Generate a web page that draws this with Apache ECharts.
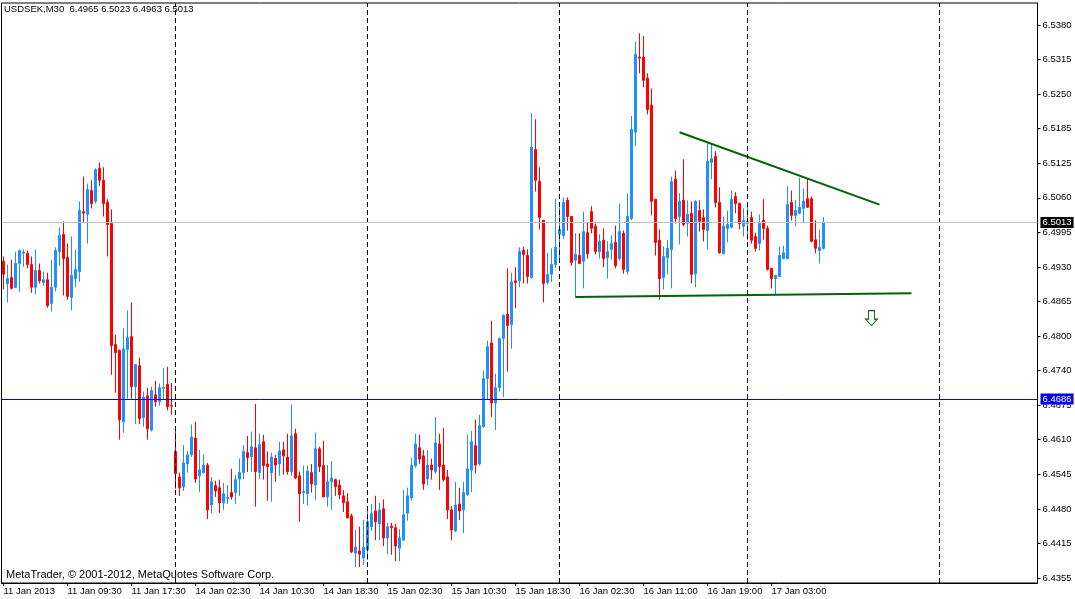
<!DOCTYPE html>
<html>
<head>
<meta charset="utf-8">
<title>USDSEK,M30</title>
<script src="https://cdn.jsdelivr.net/npm/echarts@6/dist/echarts.min.js"></script>
<style>
    html, body { margin: 0; padding: 0; background: #fff; }
    #chart { width: 1075px; height: 599px; }
</style>
</head>
<body>
<div id="chart"></div>
<script>
"use strict";

// trading sessions shown on the chart (half-hour bars)
var sessionDays = ['11 Jan', '14 Jan', '15 Jan', '16 Jan', '17 Jan', '18 Jan'];
var sessionFirstSlot = [3, 0, 0, 0, 0, 0];
var sessionBars = [43, 48, 48, 47, 48, 25];
var missingSlots = { '16 Jan': 12 };

var opens = [6.4941, 6.4900, 6.4911, 6.4893, 6.4937, 6.4956, 6.4956, 6.4935, 6.4893, 6.4924,
    6.4902, 6.4907, 6.4863, 6.4893, 6.4959, 6.4991, 6.4948, 6.4874, 6.4909, 6.4922,
    6.5033, 6.5028, 6.5072, 6.5052, 6.5113, 6.5091, 6.5050, 6.5011, 6.4787, 6.4776,
    6.4644, 6.4778, 6.4802, 6.4709, 6.4748, 6.4652, 6.4692, 6.4629, 6.4694, 6.4681,
    6.4706, 6.4713, 6.4674, 6.4589, 6.4542, 6.4524, 6.4566, 6.4583, 6.4614, 6.4544,
    6.4550, 6.4564, 6.4490, 6.4526, 6.4522, 6.4494, 6.4502, 6.4513, 6.4513, 6.4538,
    6.4550, 6.4587, 6.4579, 6.4596, 6.4550, 6.4607, 6.4566, 6.4550, 6.4576, 6.4566,
    6.4592, 6.4579, 6.4552, 6.4622, 6.4544, 6.4513, 6.4511, 6.4550, 6.4527, 6.4594,
    6.4563, 6.4505, 6.4533, 6.4537, 6.4527, 6.4507, 6.4496, 6.4470, 6.4401, 6.4405,
    6.4392, 6.4407, 6.4450, 6.4479, 6.4455, 6.4483, 6.4429, 6.4451, 6.4448, 6.4410,
    6.4425, 6.4475, 6.4503, 6.4563, 6.4596, 6.4581, 6.4538, 6.4564, 6.4552, 6.4603,
    6.4564, 6.4542, 6.4481, 6.4442, 6.4492, 6.4481, 6.4509, 6.4555, 6.4600, 6.4566,
    6.4635, 6.4724, 6.4790, 6.4679, 6.4707, 6.4798, 6.4843, 6.4824, 6.4905, 6.4905,
    6.4961, 6.4952, 6.4911, 6.5148, 6.5089, 6.5017, 6.4902, 6.4917, 6.4935, 6.4991,
    6.4989, 6.5054, 6.5024, 6.4943, 6.4952, 6.4941, 6.4994, 6.5033, 6.5006, 6.4959,
    6.4980, 6.4948, 6.4963, 6.4976, 6.4946, 6.4993, 6.4922, 6.5020, 6.5180, 6.5319,
    6.5319, 6.5280, 6.5230, 6.5056, 6.4980, 6.4911, 6.4948, 6.4963, 6.5093, 6.5024,
    6.5054, 6.5011, 6.5030, 6.4918, 6.5035, 6.5022, 6.4998, 6.5124, 6.5135, 6.5050,
    6.4955, 6.5002, 6.5004, 6.5061, 6.5048, 6.5006, 6.5011, 6.5022, 6.4987, 6.4974,
    6.5017, 6.5002, 6.4928, 6.4909, 6.4913, 6.4946, 6.4946, 6.5050, 6.5026, 6.5030,
    6.5039, 6.5057, 6.5057, 6.4981, 6.4961, 6.4965];
var highs = [6.4950, 6.4935, 6.4944, 6.4959, 6.4963, 6.4963, 6.4961, 6.4950, 6.4963, 6.4937,
    6.4922, 6.4920, 6.4943, 6.4967, 6.5004, 6.5015, 6.4974, 6.4987, 6.4963, 6.5052,
    6.5098, 6.5085, 6.5091, 6.5113, 6.5124, 6.5115, 6.5056, 6.5037, 6.4805, 6.4778,
    6.4817, 6.4850, 6.4865, 6.4750, 6.4763, 6.4700, 6.4707, 6.4709, 6.4720, 6.4715,
    6.4744, 6.4746, 6.4716, 6.4633, 6.4550, 6.4601, 6.4590, 6.4639, 6.4644, 6.4592,
    6.4583, 6.4568, 6.4542, 6.4535, 6.4537, 6.4531, 6.4527, 6.4557, 6.4546, 6.4576,
    6.4601, 6.4618, 6.4626, 6.4677, 6.4622, 6.4620, 6.4589, 6.4587, 6.4583, 6.4607,
    6.4607, 6.4622, 6.4676, 6.4631, 6.4552, 6.4563, 6.4563, 6.4566, 6.4624, 6.4598,
    6.4609, 6.4564, 6.4572, 6.4539, 6.4537, 6.4518, 6.4512, 6.4474, 6.4444, 6.4450,
    6.4462, 6.4485, 6.4492, 6.4507, 6.4494, 6.4500, 6.4457, 6.4457, 6.4455, 6.4446,
    6.4518, 6.4522, 6.4577, 6.4622, 6.4620, 6.4592, 6.4592, 6.4576, 6.4653, 6.4622,
    6.4633, 6.4555, 6.4488, 6.4533, 6.4522, 6.4533, 6.4620, 6.4627, 6.4648, 6.4657,
    6.4739, 6.4794, 6.4831, 6.4733, 6.4800, 6.4843, 6.4928, 6.4920, 6.4930, 6.4967,
    6.4968, 6.4963, 6.5215, 6.5204, 6.5115, 6.5017, 6.4957, 6.4965, 6.5057, 6.5041,
    6.5059, 6.5059, 6.5024, 6.4993, 6.4993, 6.5033, 6.5013, 6.5043, 6.5011, 6.4991,
    6.5002, 6.4978, 6.4989, 6.5007, 6.5048, 6.4998, 6.5067, 6.5210, 6.5348, 6.5363,
    6.5358, 6.5289, 6.5261, 6.5056, 6.5000, 6.4969, 6.4981, 6.5098, 6.5109, 6.5067,
    6.5130, 6.5054, 6.5052, 6.5054, 6.5054, 6.5037, 6.5159, 6.5159, 6.5145, 6.5078,
    6.5024, 6.5035, 6.5072, 6.5069, 6.5050, 6.5039, 6.5044, 6.5033, 6.4994, 6.5028,
    6.5056, 6.5007, 6.4928, 6.4915, 6.4968, 6.4970, 6.5080, 6.5072, 6.5054, 6.5096,
    6.5076, 6.5093, 6.5061, 6.5017, 6.5000, 6.5023];
var lows = [6.4889, 6.4865, 6.4889, 6.4891, 6.4885, 6.4931, 6.4928, 6.4883, 6.4880, 6.4900,
    6.4896, 6.4855, 6.4848, 6.4885, 6.4933, 6.4878, 6.4870, 6.4850, 6.4893, 6.4903,
    6.5013, 6.4974, 6.5039, 6.5048, 6.5080, 6.5024, 6.4950, 6.4731, 6.4698, 6.4611,
    6.4624, 6.4687, 6.4687, 6.4640, 6.4640, 6.4635, 6.4611, 6.4626, 6.4672, 6.4674,
    6.4685, 6.4665, 6.4657, 6.4520, 6.4507, 6.4516, 6.4550, 6.4579, 6.4531, 6.4514,
    6.4548, 6.4464, 6.4475, 6.4505, 6.4475, 6.4481, 6.4492, 6.4500, 6.4492, 6.4507,
    6.4538, 6.4551, 6.4551, 6.4487, 6.4538, 6.4537, 6.4498, 6.4496, 6.4533, 6.4544,
    6.4546, 6.4546, 6.4544, 6.4538, 6.4459, 6.4492, 6.4490, 6.4513, 6.4500, 6.4551,
    6.4505, 6.4487, 6.4481, 6.4507, 6.4501, 6.4477, 6.4466, 6.4401, 6.4375, 6.4375,
    6.4379, 6.4388, 6.4442, 6.4425, 6.4425, 6.4414, 6.4399, 6.4398, 6.4386, 6.4386,
    6.4425, 6.4461, 6.4498, 6.4559, 6.4566, 6.4518, 6.4527, 6.4537, 6.4548, 6.4518,
    6.4533, 6.4464, 6.4425, 6.4440, 6.4462, 6.4438, 6.4507, 6.4514, 6.4548, 6.4563,
    6.4633, 6.4685, 6.4653, 6.4629, 6.4700, 6.4690, 6.4737, 6.4779, 6.4854, 6.4893,
    6.4900, 6.4900, 6.4909, 6.5070, 6.5000, 6.4865, 6.4898, 6.4903, 6.4928, 6.4944,
    6.4983, 6.4998, 6.4933, 6.4874, 6.4937, 6.4891, 6.4946, 6.4993, 6.4954, 6.4946,
    6.4930, 6.4909, 6.4944, 6.4928, 6.4942, 6.4918, 6.4917, 6.5017, 6.5154, 6.5289,
    6.5263, 6.5213, 6.5026, 6.4952, 6.4870, 6.4889, 6.4917, 6.4891, 6.5011, 6.4972,
    6.5006, 6.4987, 6.4900, 6.4893, 6.4996, 6.4978, 6.4963, 6.5093, 6.5041, 6.4955,
    6.4954, 6.4976, 6.5002, 6.5030, 6.5000, 6.4987, 6.4980, 6.4974, 6.4959, 6.4961,
    6.4981, 6.4924, 6.4891, 6.4880, 6.4913, 6.4946, 6.4946, 6.5017, 6.5006, 6.5028,
    6.5013, 6.5041, 6.4976, 6.4956, 6.4937, 6.4963];
var closes = [6.4917, 6.4909, 6.4891, 6.4937, 6.4961, 6.4958, 6.4935, 6.4893, 6.4924, 6.4905,
    6.4907, 6.4859, 6.4893, 6.4961, 6.4989, 6.4946, 6.4876, 6.4915, 6.4926, 6.5035,
    6.5030, 6.5074, 6.5048, 6.5111, 6.5091, 6.5048, 6.5009, 6.4785, 6.4772, 6.4648,
    6.4779, 6.4800, 6.4709, 6.4750, 6.4650, 6.4690, 6.4631, 6.4702, 6.4681, 6.4707,
    6.4708, 6.4672, 6.4673, 6.4548, 6.4522, 6.4568, 6.4583, 6.4616, 6.4538, 6.4555,
    6.4564, 6.4481, 6.4533, 6.4516, 6.4494, 6.4511, 6.4504, 6.4505, 6.4537, 6.4550,
    6.4589, 6.4578, 6.4598, 6.4552, 6.4602, 6.4563, 6.4561, 6.4579, 6.4564, 6.4590,
    6.4581, 6.4552, 6.4618, 6.4540, 6.4511, 6.4515, 6.4553, 6.4529, 6.4594, 6.4561,
    6.4505, 6.4533, 6.4540, 6.4524, 6.4509, 6.4494, 6.4466, 6.4403, 6.4412, 6.4399,
    6.4412, 6.4459, 6.4474, 6.4459, 6.4481, 6.4429, 6.4450, 6.4448, 6.4414, 6.4429,
    6.4472, 6.4507, 6.4563, 6.4603, 6.4575, 6.4529, 6.4564, 6.4555, 6.4605, 6.4561,
    6.4537, 6.4481, 6.4444, 6.4490, 6.4479, 6.4513, 6.4557, 6.4607, 6.4564, 6.4637,
    6.4724, 6.4783, 6.4679, 6.4707, 6.4798, 6.4841, 6.4822, 6.4903, 6.4902, 6.4959,
    6.4954, 6.4913, 6.5152, 6.5091, 6.5022, 6.4900, 6.4917, 6.4935, 6.4967, 6.5000,
    6.5050, 6.5024, 6.4939, 6.4954, 6.4937, 6.4996, 6.4955, 6.5002, 6.4959, 6.4978,
    6.4946, 6.4959, 6.4974, 6.4933, 6.4996, 6.4926, 6.5024, 6.5185, 6.5324, 6.5317,
    6.5276, 6.5222, 6.5052, 6.4976, 6.4909, 6.4950, 6.4965, 6.5089, 6.5020, 6.5052,
    6.5009, 6.5028, 6.4917, 6.5052, 6.5015, 6.5000, 6.5126, 6.5131, 6.5050, 6.4957,
    6.5006, 6.5009, 6.5056, 6.5048, 6.5011, 6.5017, 6.5015, 6.4980, 6.4965, 6.5011,
    6.5002, 6.4926, 6.4909, 6.4915, 6.4952, 6.4957, 6.5046, 6.5026, 6.5035, 6.5041,
    6.5052, 6.5041, 6.4978, 6.4965, 6.4967, 6.5013];

var yTickLabels = ['6.4355', '6.4415', '6.4480', '6.4545', '6.4610', '6.4675', '6.4740', '6.4800', '6.4865',
    '6.4930', '6.4995', '6.5060', '6.5125', '6.5185', '6.5250', '6.5315', '6.5380'];
var xTickBars = ['11 Jan 01:30', '11 Jan 09:30', '11 Jan 17:30', '14 Jan 02:30', '14 Jan 10:30', '14 Jan 18:30',
    '15 Jan 02:30', '15 Jan 10:30', '15 Jan 18:30', '16 Jan 02:30', '16 Jan 11:00', '16 Jan 19:00', '17 Jan 03:00'];
var xTickLabels = ['11 Jan 2013', '11 Jan 09:30', '11 Jan 17:30', '14 Jan 02:30', '14 Jan 10:30', '14 Jan 18:30',
    '15 Jan 02:30', '15 Jan 10:30', '15 Jan 18:30', '16 Jan 02:30', '16 Jan 11:00', '16 Jan 19:00', '17 Jan 03:00'];
var daySeparators = ['14 Jan 00:00', '15 Jan 00:00', '16 Jan 00:00', '17 Jan 00:00', '18 Jan 00:00'];

var bidPrice = 6.5013;
var levelPrice = 6.4686;
var upperTrend = [['16 Jan 15:30', 6.5180], ['17 Jan 16:30', 6.5046]];
var lowerTrend = [['16 Jan 02:00', 6.4875], ['17 Jan 20:30', 6.4882]];
var arrowPoint = ['17 Jan 15:30', 6.4836];

var FONT = 'Tahoma, "Liberation Sans", Arial, sans-serif';
var BULL = '#1e90ff';
var BEAR = '#ff0000';
var TREND = '#006400';
var LEVEL = '#0000ff';

function pad(n) {
    return (n < 10 ? '0' : '') + n;
}

var categories = [];
for (var d = 0; d < sessionDays.length; d++) {
    var slot = sessionFirstSlot[d];
    var made = 0;
    while (made < sessionBars[d]) {
        if (missingSlots[sessionDays[d]] !== slot) {
            categories.push(sessionDays[d] + ' ' + pad(Math.floor(slot / 2)) + ':' + (slot % 2 ? '30' : '00'));
            made++;
        }
        slot++;
    }
}

var candles = [];
for (var i = 0; i < opens.length; i++) {
    candles.push([opens[i], closes[i], lows[i], highs[i]]);
}

function isTick(index, value) {
    return xTickBars.indexOf(value) >= 0;
}

function priceBox(price, bg) {
    return {
        show: true, position: 'end', distance: 3, formatter: price.toFixed(4),
        color: '#fff', backgroundColor: bg, padding: [1, 2, 0, 2],
        fontSize: 9.5, fontFamily: FONT
    };
}

// price lines get their own series so their colour is not mixed with the candle styles
var priceLines = [
    { yAxis: bidPrice, lineStyle: { color: '#c0c0c0', type: 'solid', width: 1 }, label: priceBox(bidPrice, '#000') },
    { yAxis: levelPrice, lineStyle: { color: LEVEL, type: 'solid', width: 1 }, label: priceBox(levelPrice, LEVEL) }
];
var drawnLines = [
    [{ coord: upperTrend[0], lineStyle: { color: TREND, width: 2, type: 'solid' } }, { coord: upperTrend[1] }],
    [{ coord: lowerTrend[0], lineStyle: { color: TREND, width: 2, type: 'solid' } }, { coord: lowerTrend[1] }]
];
daySeparators.forEach(function (c) {
    drawnLines.push({ xAxis: c, lineStyle: { color: '#000', type: [5, 3], width: 1 } });
});

var dom = document.getElementById("chart");
var myChart = echarts.init(dom, null, { renderer: 'canvas' });

var option = {
    animation: false,
    backgroundColor: '#fff',
    title: [
        {
            text: 'USDSEK,M30  ' + opens[opens.length - 1].toFixed(4) + ' ' + highs[highs.length - 1].toFixed(4) + ' ' +
                lows[lows.length - 1].toFixed(4) + ' ' + closes[closes.length - 1].toFixed(4),
            left: 4, top: 4, padding: 0,
            textStyle: { fontSize: 9.5, fontWeight: 'normal', color: '#000', fontFamily: FONT }
        },
        {
            text: 'MetaTrader, \u00a9 2001-2012, MetaQuotes Software Corp.',
            left: 6, top: 569, padding: 0,
            textStyle: { fontSize: 11, fontWeight: 'normal', color: '#000', fontFamily: FONT }
        }
    ],
    grid: [
        { left: 1.5, right: 37.5, top: 3, bottom: 16, show: true, borderColor: '#000', borderWidth: 1,
          backgroundColor: 'transparent' },
        { left: 1.5, right: 37.5, top: 25, bottom: 21 }
    ],
    xAxis: [
        {
            type: 'category',
            gridIndex: 0,
            data: categories,
            boundaryGap: true,
            axisLine: { show: true, lineStyle: { color: '#000', width: 1 } },
            axisTick: { show: true, alignWithLabel: true, interval: isTick, length: 3,
                        lineStyle: { color: '#000' } },
            axisLabel: {
                interval: isTick,
                formatter: function (value) {
                    var j = xTickBars.indexOf(value);
                    return j >= 0 ? xTickLabels[j] : '';
                },
                align: 'left',
                margin: 3,
                color: '#000',
                fontSize: 9.5,
                fontFamily: FONT
            },
            splitLine: { show: false }
        },
        { type: 'category', gridIndex: 1, show: false, data: ['a'] }
    ],
    yAxis: [
        {
            type: 'value',
            gridIndex: 0,
            position: 'right',
            min: 6.43457,
            max: 6.54191,
            axisLine: { show: true, onZero: false, lineStyle: { color: '#000', width: 1 } },
            axisTick: { show: false },
            axisLabel: { show: false },
            splitLine: { show: false }
        },
        {
            type: 'value',
            gridIndex: 1,
            position: 'right',
            min: 6.4355,
            max: 6.5380,
            interval: (6.5380 - 6.4355) / 16,
            axisLine: { show: false, onZero: false },
            axisTick: { show: true, length: 3, lineStyle: { color: '#000' } },
            axisLabel: {
                formatter: function (v, idx) { return yTickLabels[idx] || ''; },
                margin: 5,
                color: '#000',
                fontSize: 9.5,
                fontFamily: FONT
            },
            splitLine: { show: false }
        }
    ],
    series: [
        {
            name: 'USDSEK',
            type: 'candlestick',
            xAxisIndex: 0,
            yAxisIndex: 0,
            barWidth: 2,
            data: candles,
            itemStyle: {
                color: BULL,
                color0: BEAR,
                borderColor: BULL,
                borderColor0: BEAR,
                borderWidth: 1
            },
            markLine: {
                silent: true,
                precision: 4,
                symbol: ['none', 'none'],
                label: { show: false },
                data: drawnLines
            },
            markPoint: {
                silent: true,
                data: [{
                    coord: arrowPoint,
                    symbol: 'path://M3,0L9,0L9,8L12,8L6,14L0,8L3,8Z',
                    symbolSize: [12, 15],
                    itemStyle: { color: '#fff', borderColor: TREND, borderWidth: 1 },
                    label: { show: false }
                }]
            }
        },
        {
            name: 'levels',
            type: 'line',
            xAxisIndex: 0,
            yAxisIndex: 0,
            data: [],
            color: LEVEL,
            z: 5,
            markLine: {
                silent: true,
                precision: 4,
                symbol: ['none', 'none'],
                data: priceLines
            }
        },
        { type: 'line', xAxisIndex: 1, yAxisIndex: 1, data: [] }
    ]
};

if (option && typeof option === 'object') {
    myChart.setOption(option);
}
</script>
</body>
</html>
